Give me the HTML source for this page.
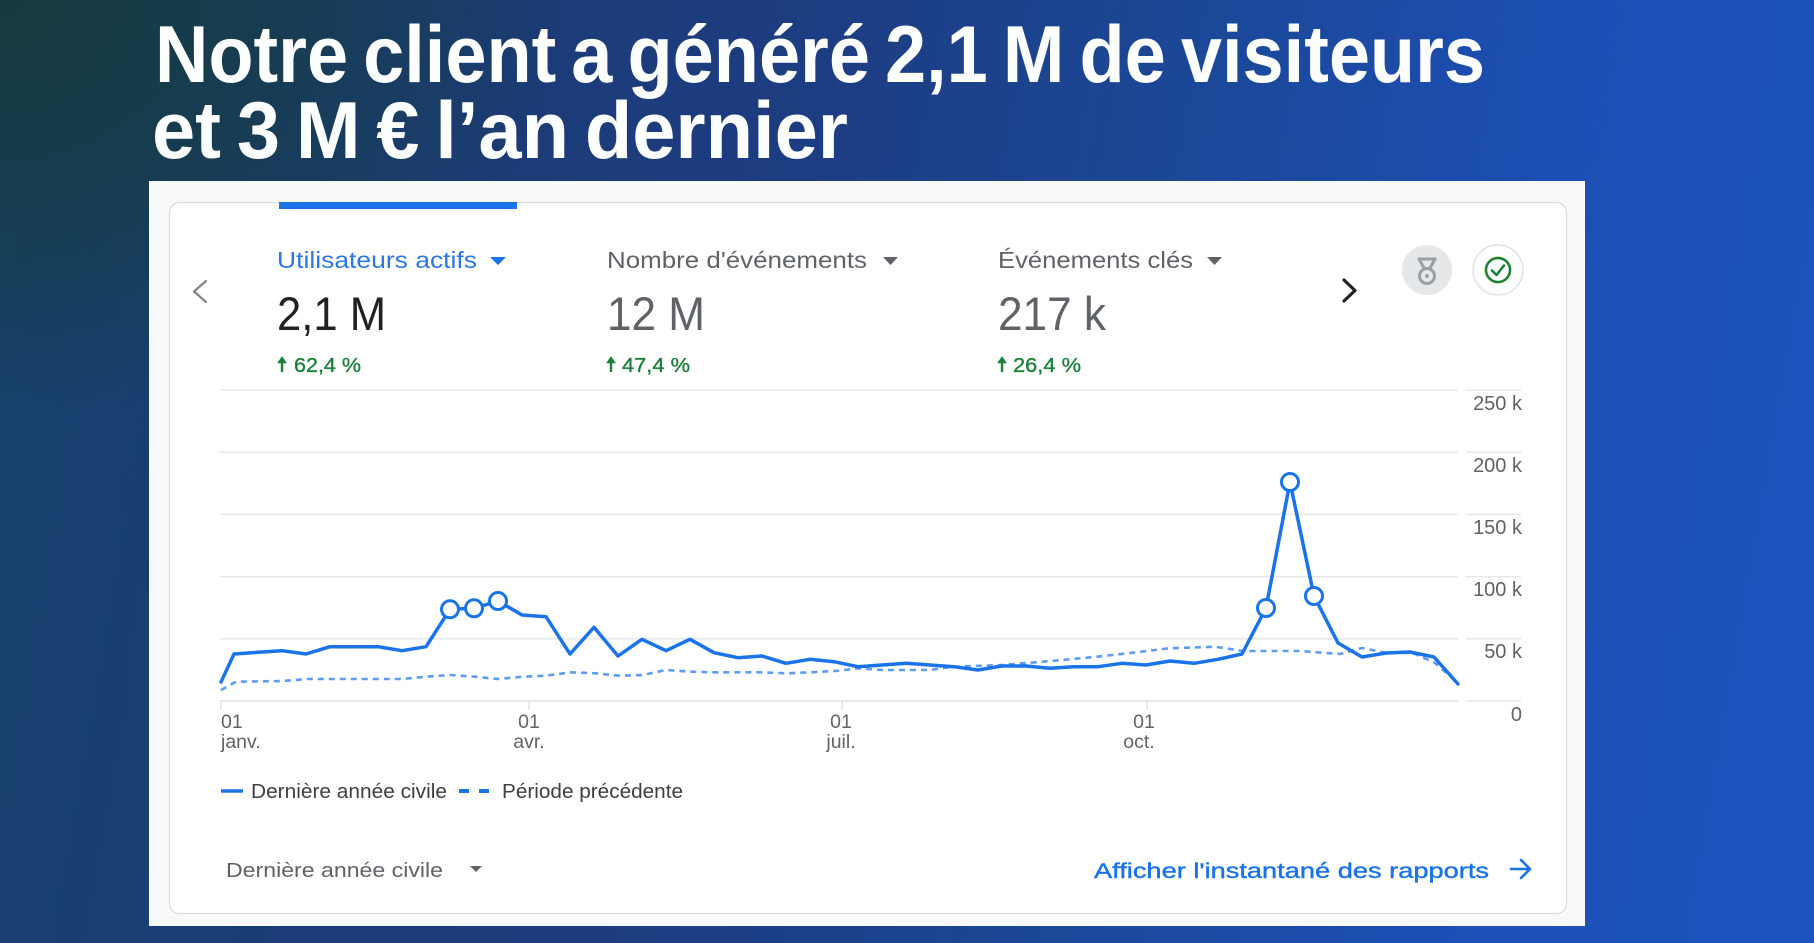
<!DOCTYPE html>
<html lang="fr">
<head>
<meta charset="utf-8">
<style>
  html,body{margin:0;padding:0;}
  body{
    width:1814px;height:943px;overflow:hidden;position:relative;
    background:
      radial-gradient(ellipse 760px 560px at 0% 0%, rgba(22,58,60,0.95) 0%, rgba(22,58,60,0.55) 40%, rgba(22,58,60,0) 75%),
      linear-gradient(100deg, #16416c 0%, #1c3b78 28%, #1d3d82 42%, #1b4796 60%, #1c4fb4 80%, #1e53bf 100%);
    font-family:"Liberation Sans", Arial, sans-serif;
  }
  svg{position:absolute;left:0;top:0;}
  text{font-family:"Liberation Sans", Arial, sans-serif;}
</style>
</head>
<body>
<svg width="1814" height="943" viewBox="0 0 1814 943" xmlns="http://www.w3.org/2000/svg">
  <!-- Title -->
  <text x="155" y="82" font-size="81" font-weight="bold" fill="#fdfefe" word-spacing="-6" textLength="1330" lengthAdjust="spacingAndGlyphs">Notre client a généré 2,1 M de visiteurs</text>
  <text x="152" y="158" font-size="81" font-weight="bold" fill="#fdfefe" word-spacing="-6" textLength="696" lengthAdjust="spacingAndGlyphs">et 3 M € l’an dernier</text>

  <!-- Outer panel and card -->
  <rect x="149" y="181" width="1436" height="745" fill="#f8f9fa"/>
  <rect x="169.5" y="202.5" width="1397" height="711" rx="10" ry="10" fill="#ffffff" stroke="#dadce0" stroke-width="1.2"/>

  <!-- Active tab bar -->
  <rect x="279" y="202" width="238" height="7" fill="#1a73e8"/>

  <!-- Left / right chevrons -->
  <polyline points="206,281 194,291.5 206,302" fill="none" stroke="#80868b" stroke-width="2.2" stroke-linecap="round" stroke-linejoin="round"/>
  <polyline points="1344,280 1355,290.5 1344,301" fill="none" stroke="#202124" stroke-width="3.2" stroke-linecap="round" stroke-linejoin="round"/>

  <!-- Metric 1 -->
  <text x="277" y="268" font-size="23.5" fill="#2a78e4" textLength="200" lengthAdjust="spacingAndGlyphs">Utilisateurs actifs</text>
  <polygon points="490,257 506,257 498,265" fill="#1a73e8"/>
  <text x="277" y="330" font-size="47" fill="#202124" textLength="109" lengthAdjust="spacingAndGlyphs">2,1 M</text>
  <g fill="#188038" stroke="#188038">
    <line x1="282" y1="372" x2="282" y2="361" stroke-width="2.4"/>
    <polygon points="277.5,363 282,356.5 286.5,363" stroke-width="0.5"/>
  </g>
  <text x="294" y="372" font-size="20" fill="#188038" stroke="#188038" stroke-width="0.35" textLength="67" lengthAdjust="spacingAndGlyphs">62,4 %</text>

  <!-- Metric 2 -->
  <text x="607" y="268" font-size="23.5" fill="#5f6368" textLength="260" lengthAdjust="spacingAndGlyphs">Nombre d'événements</text>
  <polygon points="883,257 898,257 890.5,265" fill="#5f6368"/>
  <text x="607" y="330" font-size="47" fill="#5f6368" textLength="98" lengthAdjust="spacingAndGlyphs">12 M</text>
  <g fill="#188038" stroke="#188038">
    <line x1="611" y1="372" x2="611" y2="361" stroke-width="2.4"/>
    <polygon points="606.5,363 611,356.5 615.5,363" stroke-width="0.5"/>
  </g>
  <text x="622" y="372" font-size="20" fill="#188038" stroke="#188038" stroke-width="0.35" textLength="68" lengthAdjust="spacingAndGlyphs">47,4 %</text>

  <!-- Metric 3 -->
  <text x="998" y="268" font-size="23.5" fill="#5f6368" textLength="195" lengthAdjust="spacingAndGlyphs">Événements clés</text>
  <polygon points="1207,257 1222,257 1214.5,265" fill="#5f6368"/>
  <text x="998" y="330" font-size="47" fill="#5f6368" textLength="108" lengthAdjust="spacingAndGlyphs">217 k</text>
  <g fill="#188038" stroke="#188038">
    <line x1="1002" y1="372" x2="1002" y2="361" stroke-width="2.4"/>
    <polygon points="997.5,363 1002,356.5 1006.5,363" stroke-width="0.5"/>
  </g>
  <text x="1013" y="372" font-size="20" fill="#188038" stroke="#188038" stroke-width="0.35" textLength="68" lengthAdjust="spacingAndGlyphs">26,4 %</text>

  <!-- Medal icon -->
  <circle cx="1427" cy="270" r="25" fill="#e6e7e9"/>
  <g fill="none" stroke="#9aa0a6" stroke-width="3" stroke-linecap="round" stroke-linejoin="round">
    <polyline points="1419,259 1424,268"/>
    <polyline points="1435,259 1430,268"/>
    <line x1="1419" y1="259" x2="1435" y2="259"/>
    <circle cx="1427" cy="276" r="7.5"/>
  </g>
  <circle cx="1427" cy="276" r="2" fill="#9aa0a6"/>

  <!-- Check icon -->
  <circle cx="1498" cy="270" r="25" fill="#ffffff" stroke="#dadce0" stroke-width="1.2"/>
  <circle cx="1498" cy="270" r="13" fill="none" stroke="#fbbc04" stroke-width="1" opacity="0.7"/>
  <circle cx="1498" cy="270" r="12" fill="none" stroke="#188038" stroke-width="2.5"/>
  <polyline points="1492,270.5 1496.5,275 1504,265.5" fill="none" stroke="#188038" stroke-width="2.6" stroke-linecap="round" stroke-linejoin="round"/>

  <!-- Gridlines -->
  <g stroke="#e6e7e9" stroke-width="1.5">
    <line x1="220" y1="390" x2="1458" y2="390"/>
    <line x1="220" y1="452.2" x2="1458" y2="452.2"/>
    <line x1="220" y1="514.4" x2="1458" y2="514.4"/>
    <line x1="220" y1="576.6" x2="1458" y2="576.6"/>
    <line x1="220" y1="638.8" x2="1458" y2="638.8"/>
    <line x1="220" y1="701" x2="1458" y2="701" stroke="#e0e1e3"/>
    <line x1="1466" y1="390" x2="1521" y2="390"/>
    <line x1="1466" y1="452.2" x2="1521" y2="452.2"/>
    <line x1="1466" y1="514.4" x2="1521" y2="514.4"/>
    <line x1="1466" y1="576.6" x2="1521" y2="576.6"/>
    <line x1="1466" y1="638.8" x2="1521" y2="638.8"/>
    <line x1="1466" y1="701" x2="1521" y2="701"/>
  </g>
  <!-- Ticks -->
  <g stroke="#dadce0" stroke-width="1.2">
    <line x1="221" y1="701" x2="221" y2="710"/>
    <line x1="529" y1="701" x2="529" y2="710"/>
    <line x1="842" y1="701" x2="842" y2="710"/>
    <line x1="1147" y1="701" x2="1147" y2="710"/>
  </g>

  <!-- Y labels -->
  <g font-size="20" fill="#5f6368" text-anchor="end">
    <text x="1522" y="410">250 k</text>
    <text x="1522" y="472">200 k</text>
    <text x="1522" y="534">150 k</text>
    <text x="1522" y="596">100 k</text>
    <text x="1522" y="658">50 k</text>
    <text x="1522" y="721">0</text>
  </g>

  <!-- X labels -->
  <g font-size="19.5" fill="#5f6368">
    <text x="221" y="728">01</text>
    <text x="221" y="748">janv.</text>
    <text x="529" y="728" text-anchor="middle">01</text>
    <text x="529" y="748" text-anchor="middle">avr.</text>
    <text x="841" y="728" text-anchor="middle">01</text>
    <text x="841" y="748" text-anchor="middle">juil.</text>
    <text x="1144" y="728" text-anchor="middle">01</text>
    <text x="1139" y="748" text-anchor="middle">oct.</text>
  </g>

  <!-- Previous period (dashed) -->
  <polyline fill="none" stroke="#5e9cf0" stroke-width="2.6" stroke-dasharray="6 5" stroke-linejoin="round"
    points="221,690 236,681.7 282,681 307,679 402,679 426,676.7 450,675 475,676.7 498,679 523,676.7 546,675.7 571,672.3 595,673.3 619,675.7 643,675 666,670 690,671.7 714,672.3 760,672.3 786,673.3 811,672.3 840,670.7 858,668.3 883,670 929,670 954,666.7 1002,665 1051,661 1097,656.7 1133,652.7 1169,648.3 1215,646.7 1243,651 1300,651 1340,654 1362,648 1387,653 1413,653 1435,663 1458,683"/>

  <!-- Last calendar year (solid) -->
  <polyline fill="none" stroke="#1a73e8" stroke-width="3.5" stroke-linejoin="round" stroke-linecap="round"
    points="221,682 234,654 258,652.3 282,650.7 306,654 330,646.7 354,646.7 378,646.7 402,650.7 426,646.7 450,609.3 474,608.3 498,601 522,615 546,616.7 570,654 594,627.3 618,656 642,639.3 666,650.7 690,639.3 714,652.7 738,657.7 762,656 786,663.3 810,659.3 834,661.7 858,666.7 882,665 906,663.3 930,665 954,666.7 978,670 1002,666 1026,666 1050,668.3 1074,666.7 1098,666.7 1122,663.3 1146,665 1170,661 1194,663.3 1218,659.3 1242,654 1266,608 1290,482 1314,596 1338,643 1362,657 1386,653 1410,652 1434,657 1458,684"/>

  <!-- Anomaly markers -->
  <g fill="#ffffff" stroke="#1a73e8" stroke-width="3">
    <circle cx="450" cy="609.3" r="8.5"/>
    <circle cx="474" cy="608.3" r="8.5"/>
    <circle cx="498" cy="601" r="8.5"/>
    <circle cx="1266" cy="608" r="8.5"/>
    <circle cx="1290" cy="482" r="8.5"/>
    <circle cx="1314" cy="596" r="8.5"/>
  </g>

  <!-- Legend -->
  <line x1="221" y1="791" x2="243" y2="791" stroke="#1a73e8" stroke-width="3.5"/>
  <text x="251" y="798" font-size="20" fill="#3c4043" textLength="196" lengthAdjust="spacingAndGlyphs">Dernière année civile</text>
  <line x1="459" y1="791" x2="469" y2="791" stroke="#1a73e8" stroke-width="4"/>
  <line x1="479" y1="791" x2="489" y2="791" stroke="#1a73e8" stroke-width="4"/>
  <text x="502" y="798" font-size="20" fill="#3c4043" textLength="181" lengthAdjust="spacingAndGlyphs">Période précédente</text>

  <!-- Footer -->
  <text x="226" y="877" font-size="20.5" fill="#5f6368" textLength="217" lengthAdjust="spacingAndGlyphs">Dernière année civile</text>
  <polygon points="470,866 482,866 476,872" fill="#5f6368"/>
  <text x="1094" y="878" font-size="21" fill="#1a73e8" stroke="#1a73e8" stroke-width="0.4" textLength="395" lengthAdjust="spacingAndGlyphs">Afficher l'instantané des rapports</text>
  <g fill="none" stroke="#1a73e8" stroke-width="2.6" stroke-linecap="round" stroke-linejoin="round">
    <line x1="1511" y1="869" x2="1530" y2="869"/>
    <polyline points="1521,860 1530,869 1521,878"/>
  </g>
</svg>
</body>
</html>
